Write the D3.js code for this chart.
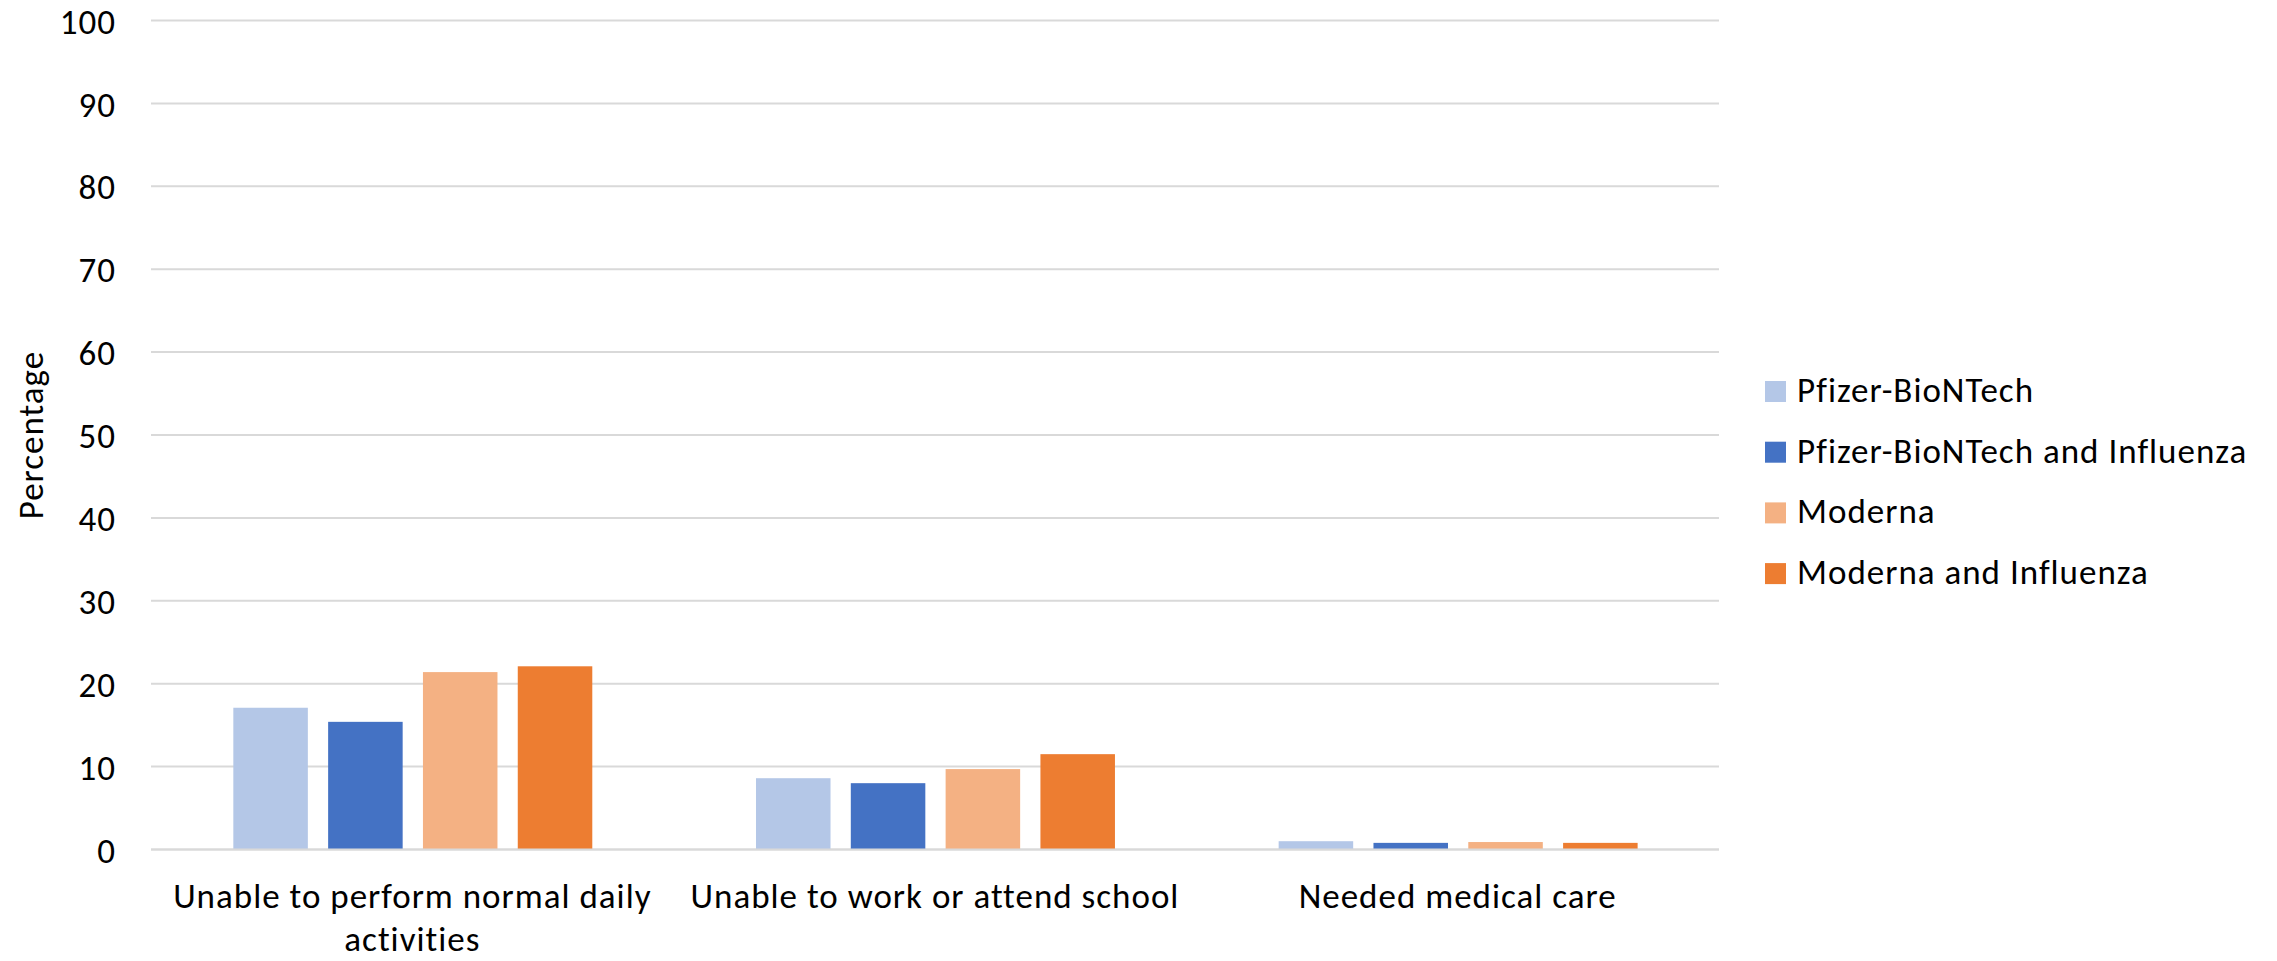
<!DOCTYPE html>
<html>
<head>
<meta charset="utf-8">
<script src="https://cdn.jsdelivr.net/npm/d3@7"></script>
<style>
  html, body { margin: 0; padding: 0; background: #fff; }
  svg { display: block; }
  text { font-family: Carlito, Calibri, Lato, "Open Sans", sans-serif; fill: #000; letter-spacing: 1px; }
</style>
</head>
<body>
<svg id="chart" width="2277" height="961"></svg>
<script>
const categories = ["Unable to perform normal daily activities", "Unable to work or attend school", "Needed medical care"];
const seriesNames = ["Pfizer-BioNTech", "Pfizer-BioNTech and Influenza", "Moderna", "Moderna and Influenza"];
const pfizer = [17.1, 8.6, 1.0];
const pfizerFlu = [15.4, 8.0, 0.8];
const moderna = [21.4, 9.7, 0.9];
const modernaFlu = [22.1, 11.5, 0.8];
const seriesValues = [pfizer, pfizerFlu, moderna, modernaFlu];
const yTicks = [0, 10, 20, 30, 40, 50, 60, 70, 80, 90, 100];
const yTitle = "Percentage";
const colors = ["#B4C7E7", "#4472C4", "#F4B183", "#ED7D31"];

const svg = d3.select("#chart");
const plot = { left: 151, right: 1719, top: 20.5, bottom: 849.5 };
const fontSize = 35;

const y = d3.scaleLinear().domain([0, 100]).range([plot.bottom, plot.top]);
const x0 = d3.scaleBand().domain(categories).range([plot.left, plot.right]).padding(0);
const bw = x0.bandwidth();
const x1 = d3.scaleBand().domain(seriesNames)
  .range([bw * 0.1575, bw * 0.8443]).paddingInner(0.214).paddingOuter(0);

// gridlines
svg.append("g").selectAll("line").data(yTicks).join("line")
  .attr("x1", plot.left).attr("x2", plot.right)
  .attr("y1", d => y(d)).attr("y2", d => y(d))
  .attr("stroke", "#D9D9D9").attr("stroke-width", 2);

// y tick labels
const yAxis = d3.axisLeft(y).tickValues(yTicks).tickSize(0).tickPadding(35);
const gy = svg.append("g").attr("transform", `translate(${plot.left},0)`).call(yAxis);
gy.select(".domain").remove();
gy.selectAll("text").attr("font-size", fontSize).attr("font-family", null)
  .attr("dy", "0.36em");

// bars
const groups = svg.append("g").selectAll("g").data(categories).join("g")
  .attr("transform", d => `translate(${x0(d)},0)`);
groups.selectAll("rect")
  .data((c, ci) => seriesNames.map((s, si) => ({ s, si, v: seriesValues[si][ci] })))
  .join("rect")
  .attr("x", d => x1(d.s))
  .attr("width", x1.bandwidth())
  .attr("y", d => y(d.v))
  .attr("height", d => y(0) - y(d.v))
  .attr("fill", d => colors[d.si]);

// baseline redraw on top
svg.append("line")
  .attr("x1", plot.left).attr("x2", plot.right)
  .attr("y1", y(0)).attr("y2", y(0))
  .attr("stroke", "#D9D9D9").attr("stroke-width", 2);

// category labels with wrapping
const maxW = bw * 0.95;
const cat = svg.append("g").selectAll("text").data(categories).join("text")
  .attr("x", d => x0(d) + bw / 2)
  .attr("y", 908)
  .attr("text-anchor", "middle")
  .attr("font-size", fontSize);
cat.each(function(d) {
  const t = d3.select(this);
  const words = d.split(" ");
  let line = [];
  let tspan = t.append("tspan").attr("x", x0(d) + bw / 2).attr("dy", 0);
  for (const w of words) {
    line.push(w);
    tspan.text(line.join(" "));
    if (tspan.node().getComputedTextLength() > maxW && line.length > 1) {
      line.pop();
      tspan.text(line.join(" "));
      line = [w];
      tspan = t.append("tspan").attr("x", x0(d) + bw / 2).attr("dy", 43).text(w);
    }
  }
});

// y title
svg.append("text")
  .attr("transform", `translate(43,${(plot.top + plot.bottom) / 2}) rotate(-90)`)
  .attr("text-anchor", "middle")
  .attr("font-size", fontSize)
  .text(yTitle);

// legend
const legend = svg.append("g").attr("transform", "translate(1765,381)");
const items = legend.selectAll("g").data(seriesNames).join("g")
  .attr("transform", (d, i) => `translate(0,${i * 60.7})`);
items.append("rect").attr("width", 21).attr("height", 21).attr("fill", (d, i) => colors[i]);
items.append("text").attr("x", 32).attr("y", 21).attr("font-size", fontSize).text(d => d);
</script>
</body>
</html>
